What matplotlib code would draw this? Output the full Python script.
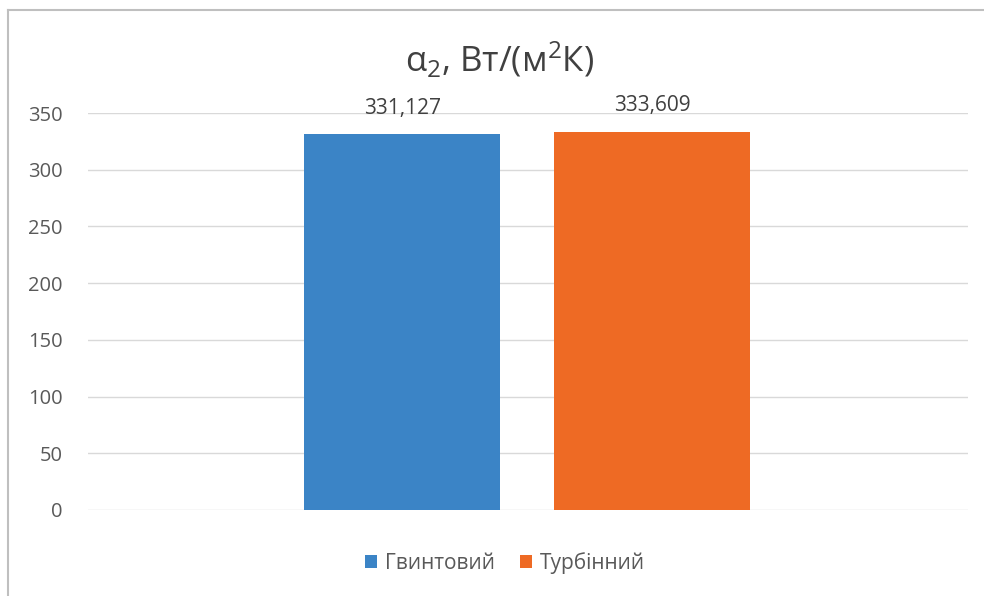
import matplotlib
matplotlib.use('Agg')
import matplotlib.pyplot as plt
from matplotlib.lines import Line2D
from matplotlib.patches import Patch

plt.rcParams['font.family'] = ['Open Sans', 'DejaVu Sans']
plt.rcParams['mathtext.fontset'] = 'custom'
plt.rcParams['mathtext.rm'] = 'Open Sans'
plt.rcParams['mathtext.it'] = 'Open Sans'

# data
series = ['Гвинтовий', 'Турбінний']
values = [331.127, 333.609]
labels = ['331,127', '333,609']
colors = ['#3b84c6', '#ee6a24']
yticks = [0, 50, 100, 150, 200, 250, 300, 350]

text_color = '#595959'

fig = plt.figure(figsize=(9.84, 5.96), dpi=100)
ax = fig.add_axes([0.0894, 0.1443, 0.8943, 0.6661])

offsets = [-0.143, 0.141]
for i in range(len(series)):
    ax.bar(offsets[i], values[i], width=0.222, color=colors[i], zorder=3)
    ax.annotate(labels[i], (offsets[i], values[i]), xytext=(0, 11),
                textcoords='offset points', ha='center', va='bottom',
                fontsize=15, color='#404040')

ax.set_xlim(-0.5, 0.5)
ax.set_ylim(0, 350)
ax.set_yticks(yticks)
ax.set_xticks([])
ax.tick_params(axis='y', length=0, pad=18, labelsize=14.5, labelcolor=text_color)
ax.grid(axis='y', color='#d9d9d9', linewidth=1, zorder=0)
for s in ax.spines.values():
    s.set_visible(False)

fig.text(0.508, 0.899, 'α$_2$, Вт/(м$^2$К)', ha='center', va='center',
         fontsize=25, color='#404040')

handles = [Patch(facecolor=c, edgecolor='none') for c in colors]
fig.legend(handles, series, loc='center', bbox_to_anchor=(0.513, 0.055),
           ncol=2, frameon=False, fontsize=15, handlelength=0.6,
           handleheight=0.6, handletextpad=0.35, columnspacing=1.2,
           labelcolor=text_color)

# chart border (left and top edges visible)
fig.add_artist(Line2D([0.0085, 0.0085], [0, 0.983], color='#bfbfbf', linewidth=1.5,
                      transform=fig.transFigure))
fig.add_artist(Line2D([0.0085, 1], [0.983, 0.983], color='#bfbfbf', linewidth=1.5,
                      transform=fig.transFigure))

fig.savefig('out.png', dpi=100)
